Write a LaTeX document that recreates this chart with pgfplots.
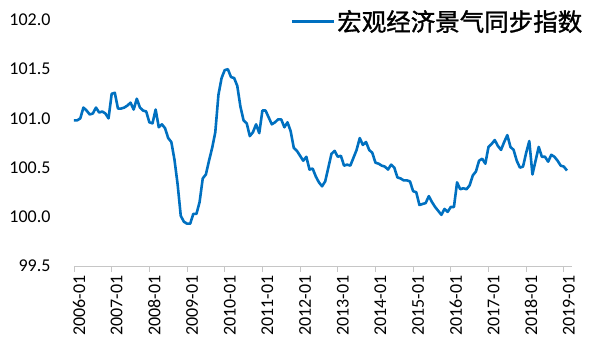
\documentclass[border=0pt]{standalone}
\usepackage{pgfplots}
\pgfplotsset{compat=1.18}
\usepackage{fontspec}
\setmainfont{Carlito}
\newfontfamily\cjk{Noto Sans CJK SC}[FakeBold=1.3]
\definecolor{lineblue}{HTML}{0070C0}
\begin{document}
\begin{tikzpicture}
\useasboundingbox (-74pt,-89pt) rectangle (517pt,266pt);
\begin{axis}[
  at={(0pt,0pt)}, anchor=south west,
  scale only axis, width=498pt, height=246pt,
  xmin=0, xmax=158.6, ymin=99.5, ymax=102,
  axis x line=bottom, axis y line=left, axis line style={-},
  y axis line style={draw=none},
  x axis line style={draw=gray!45, line width=0.9pt},
  tick align=outside,
  xtick={0,12,...,156},
  xticklabels={2006-01,2007-01,2008-01,2009-01,2010-01,2011-01,2012-01,2013-01,2014-01,2015-01,2016-01,2017-01,2018-01,2019-01},
  xtick style={draw=gray!45, line width=0.9pt},
  major tick length=6pt,
  ytick={99.5,100,100.5,101,101.5,102},
  ytick style={draw=none},
  ticklabel style={font=\fontsize{18}{20}\selectfont, text=black},
  xticklabel style={rotate=90, anchor=east, yshift=-5pt},
  yticklabel style={xshift=-14pt},
  /pgf/number format/.cd, fixed, fixed zerofill, precision=1, assume math mode=true,
  /pgfplots/.cd,
  legend style={at={(1.025,0.995)}, anchor=east, draw=none, fill=none,
    font=\cjk\fontsize{24.5}{26}\selectfont, inner sep=0pt},
  legend image code/.code={\draw[#1] (0pt,0pt) -- (42pt,0pt);},
  clip=false,
]
\addplot[lineblue, line width=2.6pt, line join=round] coordinates {
(0,100.98)(1,100.98)(2,101.00)(3,101.11)(4,101.08)(5,101.04)(6,101.05)(7,101.11)(8,101.06)(9,101.07)(10,101.05)(11,101.00)
(12,101.25)(13,101.26)(14,101.10)(15,101.10)(16,101.11)(17,101.13)(18,101.16)(19,101.09)(20,101.20)(21,101.11)(22,101.08)(23,101.07)
(24,100.96)(25,100.95)(26,101.09)(27,100.91)(28,100.94)(29,100.90)(30,100.80)(31,100.76)(32,100.58)(33,100.33)(34,100.01)(35,99.95)
(36,99.93)(37,99.93)(38,100.03)(39,100.03)(40,100.15)(41,100.39)(42,100.43)(43,100.57)(44,100.70)(45,100.86)(46,101.24)(47,101.41)
(48,101.49)(49,101.50)(50,101.42)(51,101.41)(52,101.33)(53,101.12)(54,100.98)(55,100.95)(56,100.82)(57,100.86)(58,100.94)(59,100.85)
(60,101.08)(61,101.08)(62,101.01)(63,100.94)(64,100.96)(65,100.99)(66,100.99)(67,100.91)(68,100.96)(69,100.87)(70,100.70)(71,100.67)
(72,100.62)(73,100.57)(74,100.61)(75,100.48)(76,100.49)(77,100.41)(78,100.35)(79,100.31)(80,100.36)(81,100.50)(82,100.64)(83,100.67)
(84,100.61)(85,100.62)(86,100.52)(87,100.53)(88,100.52)(89,100.60)(90,100.68)(91,100.80)(92,100.73)(93,100.76)(94,100.68)(95,100.65)
(96,100.55)(97,100.54)(98,100.52)(99,100.51)(100,100.48)(101,100.53)(102,100.50)(103,100.40)(104,100.39)(105,100.37)(106,100.37)(107,100.36)
(108,100.26)(109,100.25)(110,100.12)(111,100.13)(112,100.14)(113,100.21)(114,100.15)(115,100.10)(116,100.06)(117,100.02)(118,100.08)(119,100.05)
(120,100.10)(121,100.10)(122,100.35)(123,100.28)(124,100.29)(125,100.28)(126,100.32)(127,100.42)(128,100.46)(129,100.57)(130,100.59)(131,100.54)
(132,100.71)(133,100.74)(134,100.78)(135,100.72)(136,100.68)(137,100.76)(138,100.83)(139,100.71)(140,100.68)(141,100.57)(142,100.50)(143,100.51)
(144,100.65)(145,100.77)(146,100.43)(147,100.57)(148,100.71)(149,100.61)(150,100.61)(151,100.56)(152,100.63)(153,100.61)(154,100.57)(155,100.52)
(156,100.51)(157,100.47)
};
\addlegendentry{宏观经济景气同步指数}
\end{axis}
\end{tikzpicture}
\end{document}
